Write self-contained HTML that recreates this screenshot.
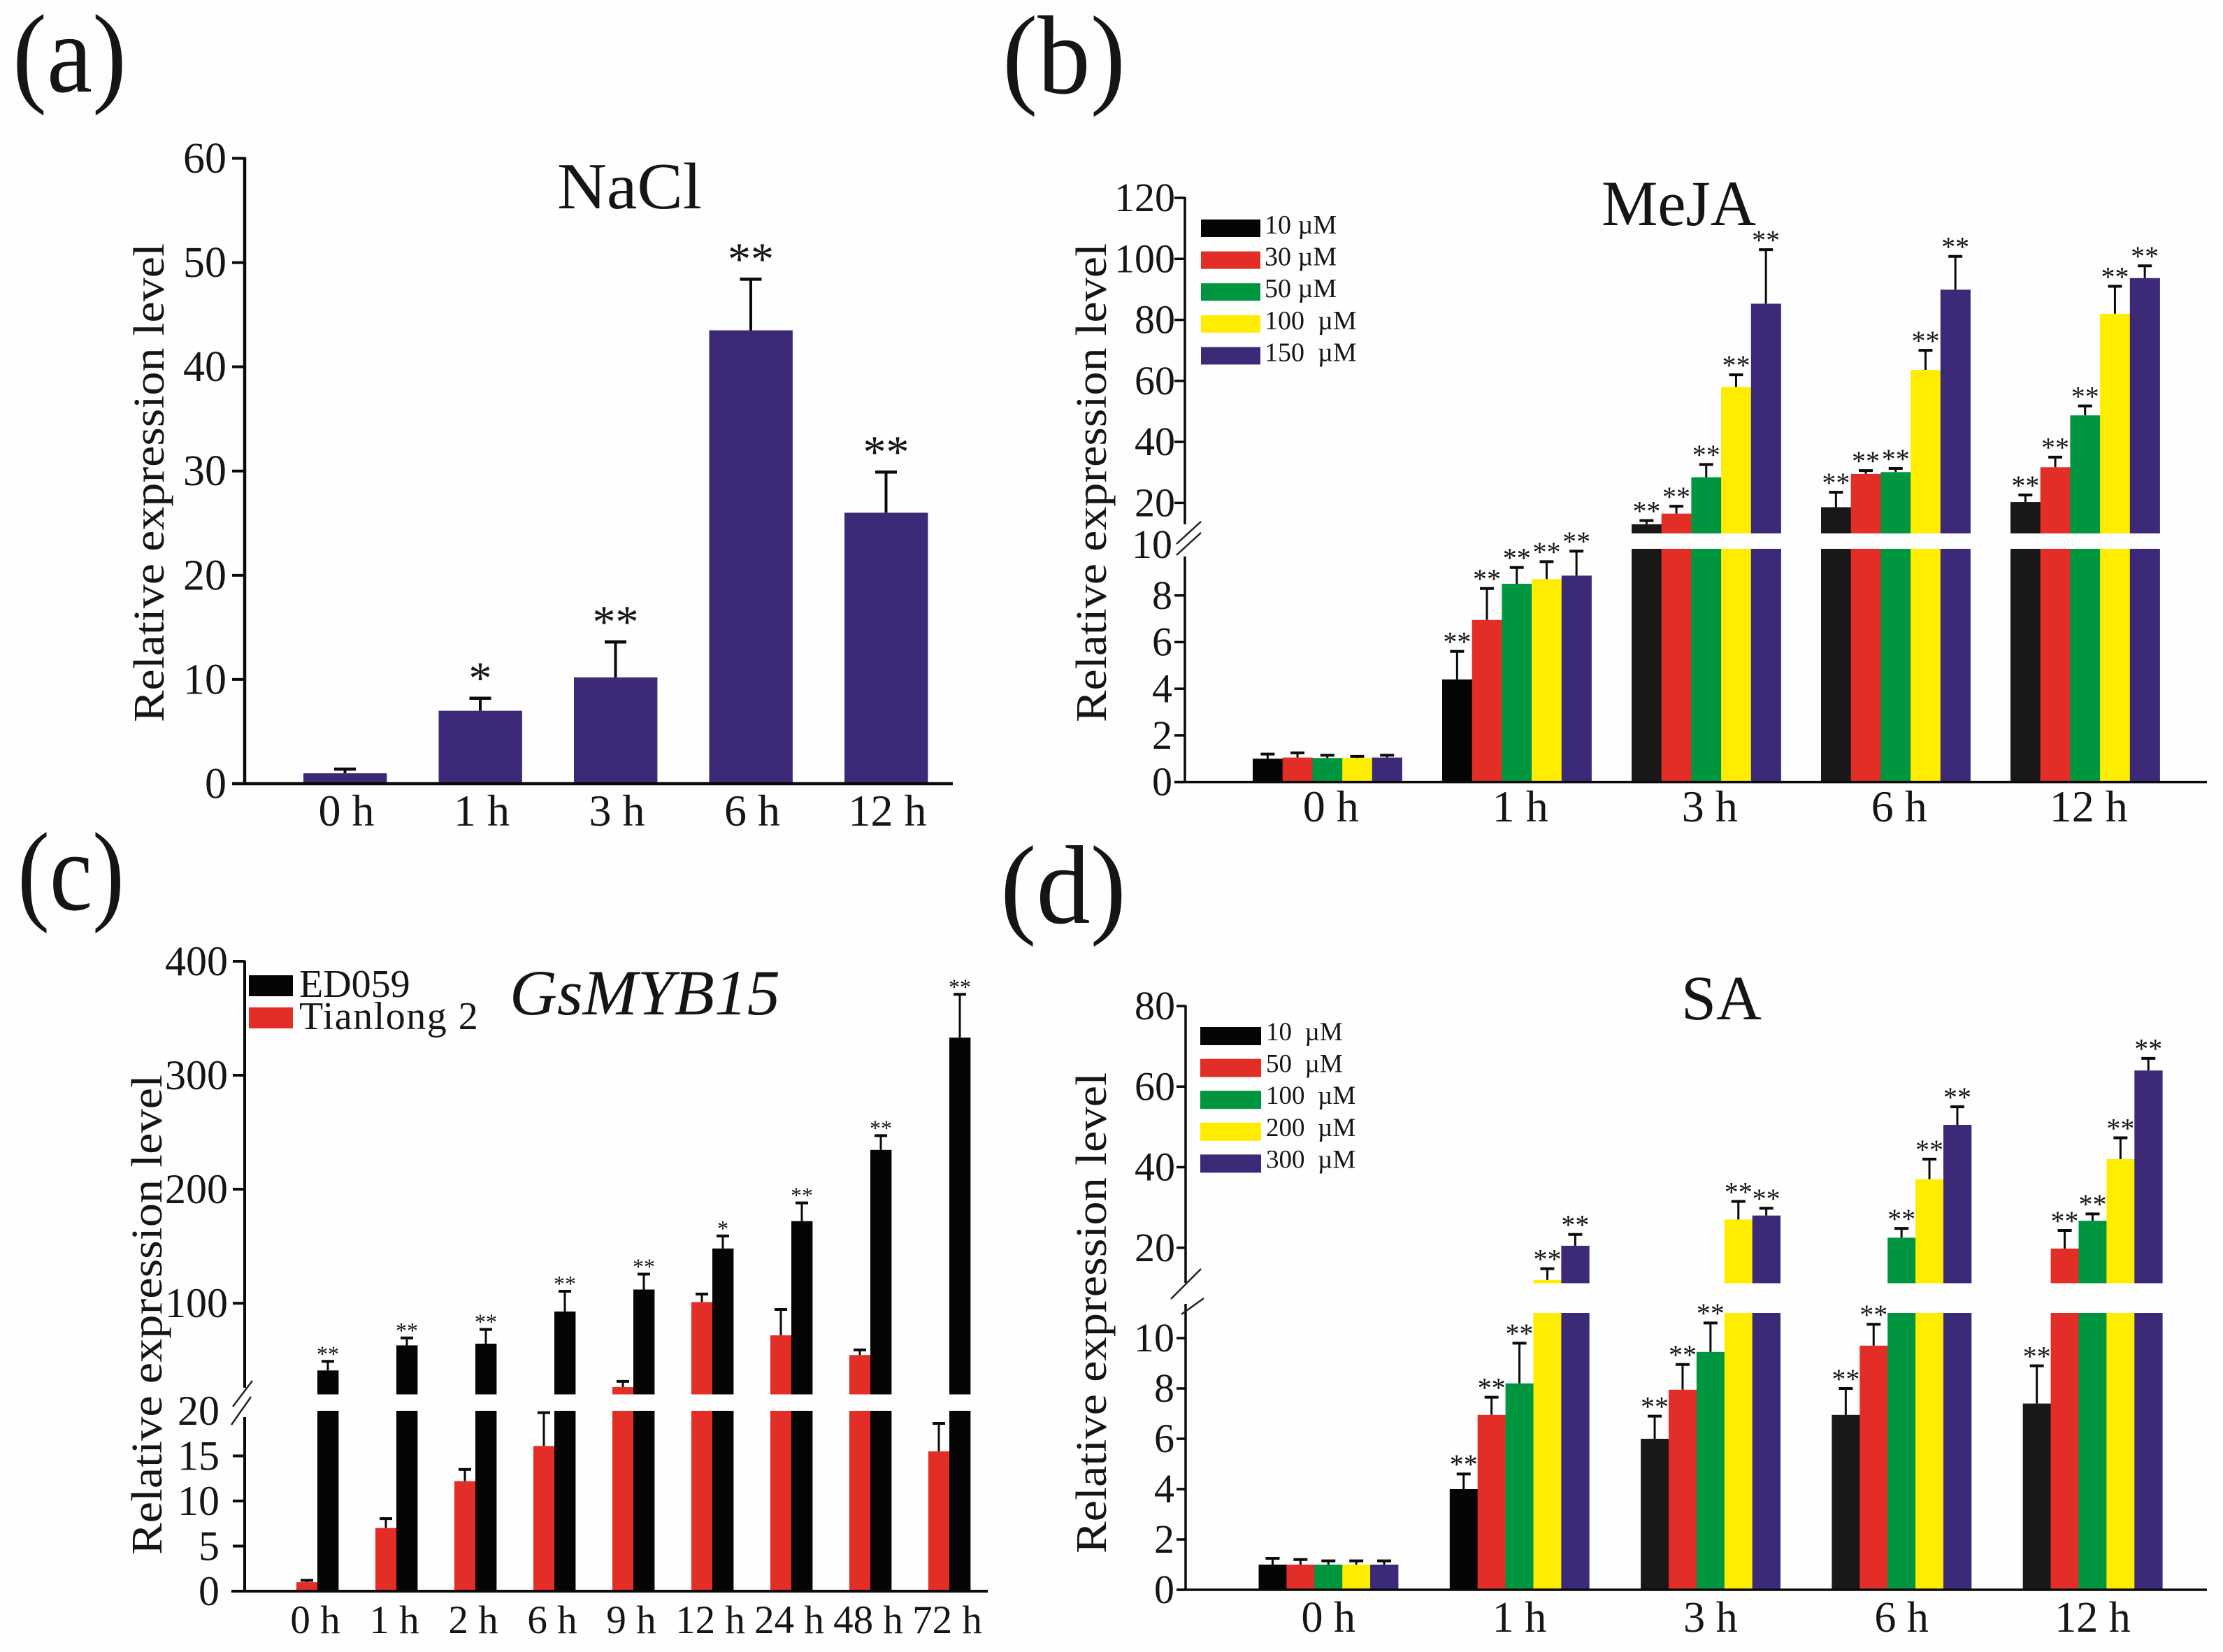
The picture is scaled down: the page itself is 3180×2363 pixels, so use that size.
<!DOCTYPE html>
<html lang="en">
<head>
<meta charset="utf-8">
<title>Relative expression level of GsMYB15 under stress treatments</title>
<style>
html,body{margin:0;padding:0;background:#fff;}
svg{display:block;}
text{font-family:"Liberation Serif","DejaVu Serif",serif;fill:#151515;}
</style>
</head>
<body>
<svg id="figure" xmlns="http://www.w3.org/2000/svg" width="3180" height="2363" viewBox="0 0 3180 2363">
  <rect x="0" y="0" width="3180" height="2363" fill="#fefefe"/>

  <text x="18" y="131" font-size="160" textLength="163" lengthAdjust="spacingAndGlyphs">(a)</text>
  <text x="1434" y="133" font-size="160" textLength="176" lengthAdjust="spacingAndGlyphs">(b)</text>
  <text x="25" y="1301" font-size="160" textLength="153" lengthAdjust="spacingAndGlyphs">(c)</text>
  <text x="1431" y="1320" font-size="160" textLength="180" lengthAdjust="spacingAndGlyphs">(d)</text>

  <text x="797" y="298" font-size="94" textLength="207" lengthAdjust="spacingAndGlyphs">NaCl</text>
  <text x="2291" y="322" font-size="92" textLength="221" lengthAdjust="spacingAndGlyphs">MeJA</text>
  <text x="729" y="1451" font-size="92" font-style="italic" textLength="387" lengthAdjust="spacingAndGlyphs">GsMYB15</text>
  <text x="2405" y="1458" font-size="90" textLength="115" lengthAdjust="spacingAndGlyphs">SA</text>

  <text transform="translate(234,1033) rotate(-90)" font-size="62" textLength="685" lengthAdjust="spacingAndGlyphs">Relative expression level</text>
  <text transform="translate(1582,1033) rotate(-90)" font-size="62" textLength="685" lengthAdjust="spacingAndGlyphs">Relative expression level</text>
  <text transform="translate(231,2224) rotate(-90)" font-size="62" textLength="687" lengthAdjust="spacingAndGlyphs">Relative expression level</text>
  <text transform="translate(1582,2222) rotate(-90)" font-size="62" textLength="688" lengthAdjust="spacingAndGlyphs">Relative expression level</text>

  <g id="panel-a"></g>
  <g id="panel-b"></g>
  <g id="panel-c"></g>
  <g id="panel-d"></g>
</svg>

<script>
// ---------- Panel (a) NaCl ----------
const naclCategories = ["0 h", "1 h", "3 h", "6 h", "12 h"];
const naclValues = [1, 7, 10.2, 43.5, 26];
const naclErrorTops = [1.4, 8.2, 13.6, 48.4, 29.9];
const naclStars = ["", "*", "**", "**", "**"];
const naclTicks = [0, 10, 20, 30, 40, 50, 60];

// ---------- Panel (b) MeJA ----------
const mejaCategories = ["0 h", "1 h", "3 h", "6 h", "12 h"];
const mejaLegend = ["10 \u00B5M", "30 \u00B5M", "50 \u00B5M", "100 \u00A0\u00B5M", "150 \u00A0\u00B5M"];
const meja10Values = [1.0, 4.4, 13, 18.6, 20.3];
const meja30Values = [1.05, 6.95, 16.5, 29.5, 31.7];
const meja50Values = [1.03, 8.5, 28.4, 30.1, 48.7];
const meja100Values = [1.03, 8.7, 58, 63.6, 82];
const meja150Values = [1.05, 8.85, 85.3, 89.9, 93.7];
const meja10Errors = [1.2, 5.6, 14.2, 23.5, 22.6];
const meja30Errors = [1.25, 8.3, 18.9, 30.6, 35];
const meja50Errors = [1.15, 9.2, 32.6, 31.3, 51.8];
const meja100Errors = [1.1, 9.45, 62, 70, 91];
const meja150Errors = [1.15, 9.9, 103, 100.8, 97.7];
const mejaStars = ["", "**", "**", "**", "**"];
const mejaTicks = [0, 2, 4, 6, 8, 10, 20, 40, 60, 80, 100, 120];

// ---------- Panel (c) GsMYB15 ----------
const gsCategories = ["0 h", "1 h", "2 h", "6 h", "9 h", "12 h", "24 h", "48 h", "72 h"];
const gsLegend = ["ED059", "Tianlong 2"];
const gsRedValues = [1, 7, 12.2, 16.1, 26.4, 101, 71.8, 54.5, 15.5];
const gsRedErrors = [1.2, 8.05, 13.5, 19.8, 31.4, 108, 94.5, 59, 18.6];
const gsBlackValues = [41, 63, 64.5, 92.7, 112, 148, 172, 234.5, 333];
const gsBlackErrors = [49, 69.5, 77, 110.5, 125.5, 159, 188, 247, 371];
const gsBlackStars = ["**", "**", "**", "**", "**", "*", "**", "**", "**"];
const gsTicks = [0, 5, 10, 15, 20, 100, 200, 300, 400];

// ---------- Panel (d) SA ----------
const saCategories = ["0 h", "1 h", "3 h", "6 h", "12 h"];
const saLegend = ["10 \u00A0\u00B5M", "50 \u00A0\u00B5M", "100 \u00A0\u00B5M", "200 \u00A0\u00B5M", "300 \u00A0\u00B5M"];
const sa10Values = [1.0, 4.0, 6.0, 6.95, 7.4];
const sa50Values = [1.0, 6.95, 7.95, 9.7, 19.8];
const sa100Values = [1.0, 8.2, 9.45, 22.5, 26.7];
const sa200Values = [1.0, 12, 27, 37, 42];
const sa300Values = [1.0, 20.5, 28, 50.5, 64];
const sa10Errors = [1.25, 4.6, 6.9, 8.0, 8.9];
const sa50Errors = [1.2, 7.65, 8.95, 10.55, 24.3];
const sa100Errors = [1.15, 9.8, 10.6, 24.8, 28.4];
const sa200Errors = [1.15, 14.8, 31.5, 42, 47.3];
const sa300Errors = [1.15, 23.3, 29.8, 55, 67];
const saStars = ["", "**", "**", "**", "**"];
const saTicks = [0, 2, 4, 6, 8, 10, 20, 40, 60, 80];

// ---------- Palette ----------
const BLACK = "#050505", SOFTBLACK = "#1a1718", RED = "#e32d27", GREEN = "#009640", YELLOW = "#ffed00", PURPLE = "#3c2a78";
const SVGNS = "http://www.w3.org/2000/svg";

function mk(tag, attrs, parent) {
  const el = document.createElementNS(SVGNS, tag);
  for (const k in attrs) el.setAttribute(k, attrs[k]);
  parent.appendChild(el);
  return el;
}
function linear(d0, d1, p0, p1) {
  return v => p0 + (v - d0) * (p1 - p0) / (d1 - d0);
}
// Scale with optional axis break: values <= loTop use the lower segment.
function brokenScale(loTop, loY0, loYTop, upBase, upTop, upYBase, upYTop) {
  const lo = linear(0, loTop, loY0, loYTop);
  const up = linear(upBase, upTop, upYBase, upYTop);
  const f = v => v <= loTop ? lo(v) : up(v);
  f.loTop = loTop; f.upBase = upBase; f.loPx = lo; f.upPx = up;
  return f;
}
function plainScale(top, y0, yTop) {
  const f = linear(0, top, y0, yTop);
  f.loTop = Infinity;
  f.loPx = f;
  return f;
}

function drawPanel(cfg) {
  const root = document.getElementById(cfg.id);
  const y = cfg.y;
  const xBand = (g, s) => cfg.start + g * cfg.step + s * cfg.barW;
  const n = cfg.categories.length;

  cfg.series.forEach((ser, s) => {
    for (let g = 0; g < n; g++) {
      const v = ser.values[g], err = ser.errors[g];
      const x = xBand(g, s);
      const cx = x + cfg.barW / 2;
      if (v == null) continue;
      const fill = (ser.softFrom !== undefined && g >= ser.softFrom) ? SOFTBLACK : ser.color;
      // error bar
      const el = mk("line", {x1: cx, x2: cx, y1: y(v), y2: y(err), stroke: "#0a0a0a", "stroke-width": cfg.errW}, root);
      
      
      const cap = mk("line", {x1: cx - cfg.capW / 2, x2: cx + cfg.capW / 2, y1: y(err), y2: y(err), stroke: "#0a0a0a", "stroke-width": cfg.capH}, root);
      
      
      // bar (lower and upper segment around the axis break)
      const topLow = Math.min(v, y.loTop);
      const low = mk("rect", {x: x, y: y.loPx(topLow), width: cfg.barW + 0.4, height: y.loPx(0) - y.loPx(topLow), fill: fill}, root);
      
      
      if (v > y.loTop) {
        const up = mk("rect", {x: x, y: y.upPx(v), width: cfg.barW + 0.4, height: y.upPx(y.upBase) - y.upPx(v), fill: fill}, root);
        
        
      }
    }
  });

  // significance stars
  cfg.series.forEach((ser, s) => {
    if (!ser.stars) return;
    for (let g = 0; g < n; g++) {
      if (!ser.stars[g]) continue;
      const t = mk("text", {x: xBand(g, s) + cfg.barW / 2, y: y(ser.errors[g]) - cfg.starGap + 0.47 * cfg.starSize, "font-size": cfg.starSize, "text-anchor": "middle"}, root);
      t.textContent = ser.stars[g];
      
      
    }
  });

  // axes
  cfg.axisSegments.forEach(seg => {
    const a = mk("line", {x1: cfg.axisX, x2: cfg.axisX, y1: seg[0], y2: seg[1], stroke: "#0a0a0a", "stroke-width": cfg.axisW}, root);
    
    
  });
  const xa = mk("line", {x1: cfg.axisLeft, x2: cfg.axisRight, y1: y(0), y2: y(0), stroke: "#0a0a0a", "stroke-width": cfg.axisW}, root);
  
  

  (cfg.slashes || []).forEach(sl => {
    const b = mk("line", {x1: sl[0], y1: sl[1], x2: sl[2], y2: sl[3], stroke: "#222", "stroke-width": 2.5}, root);
    
    
  });

  // y ticks + labels
  cfg.ticks.forEach(v => {
    const isUpper = v > y.loTop;
    const py = y(v);
    if (v !== cfg.noTick) {
      const t = mk("line", {x1: cfg.axisX - cfg.tickLen, x2: cfg.axisX, y1: py, y2: py, stroke: "#0a0a0a", "stroke-width": cfg.tickW}, root);
      
      
    }
    const right = isUpper ? cfg.labelRightUp : cfg.labelRightLo;
    const shift = v === cfg.noTick ? cfg.noTickShift : 0;
    const lab = mk("text", {x: right, y: py + shift + 0.33 * cfg.tickFont, "font-size": cfg.tickFont, "text-anchor": "end"}, root);
    lab.textContent = String(v);
    
    
  });

  // x labels
  const groupW = cfg.series.length * cfg.barW;
  cfg.categories.forEach((c, g) => {
    const lab = mk("text", {x: cfg.start + g * cfg.step + groupW / 2 + cfg.xLabelNudge, y: cfg.xLabelY, "font-size": cfg.xFont, "text-anchor": "middle", "xml:space": "preserve"}, root);
    lab.textContent = c;
    
    
  });

  // legend
  if (cfg.legend) {
    cfg.legend.labels.forEach((txt, i) => {
      const ly = cfg.legend.y + i * cfg.legend.dy;
      const sw = mk("rect", {x: cfg.legend.x, y: ly, width: cfg.legend.w, height: cfg.legend.h, fill: cfg.legend.colors[i]}, root);
      
      
      const attrs = {x: cfg.legend.x + cfg.legend.w + cfg.legend.gap, y: ly + cfg.legend.h + cfg.legend.baseShift, "font-size": cfg.legend.font};
      if (cfg.legend.stretch) {
        attrs["letter-spacing"] = (i === cfg.legend.stretchIndex) ? cfg.legend.stretch : 0;
      }
      const t = mk("text", attrs, root);
      t.textContent = txt;
      
      
    });
  }
}

drawPanel({
  id: "panel-a", categories: naclCategories,
  series: [{color: PURPLE, values: naclValues, errors: naclErrorTops, stars: naclStars}],
  y: plainScale(60, 1121, 226.5),
  start: 434, step: 193.5, barW: 119,
  capW: 31, capH: 4.5, errW: 4, starSize: 66, starGap: 38,
  axisX: 350, axisLeft: 332, axisRight: 1363, axisW: 4.5,
  axisSegments: [[225, 1123]],
  ticks: naclTicks, tickLen: 18, tickW: 4, tickFont: 62, labelRightLo: 324, labelRightUp: 324,
  xLabelY: 1181, xFont: 64, xLabelNudge: 2
});

drawPanel({
  id: "panel-b", categories: mejaCategories,
  series: [
    {color: BLACK, softFrom: 2, values: meja10Values, errors: meja10Errors, stars: mejaStars},
    {color: RED, values: meja30Values, errors: meja30Errors, stars: mejaStars},
    {color: GREEN, values: meja50Values, errors: meja50Errors, stars: mejaStars},
    {color: YELLOW, values: meja100Values, errors: meja100Errors, stars: mejaStars},
    {color: PURPLE, values: meja150Values, errors: meja150Errors, stars: mejaStars}
  ],
  y: brokenScale(10, 1118.6, 785, 10, 120, 763, 283),
  start: 1792, step: 271, barW: 42.7,
  capW: 20, capH: 4, errW: 3, starSize: 40, starGap: 19,
  axisX: 1695, axisLeft: 1680, axisRight: 3157, axisW: 3.5,
  axisSegments: [[282, 750], [796, 1120]],
  slashes: [[1683, 778, 1718, 746], [1683, 794, 1718, 762]],
  ticks: mejaTicks, noTick: 10, noTickShift: -6,
  tickLen: 15, tickW: 3.5, tickFont: 58, labelRightLo: 1677, labelRightUp: 1681,
  xLabelY: 1175, xFont: 64, xLabelNudge: 5,
  legend: {labels: mejaLegend, colors: [BLACK, RED, GREEN, YELLOW, PURPLE], x: 1718, y: 314, dy: 45.6, w: 85, h: 25, gap: 6, baseShift: -5, font: 38}
});

drawPanel({
  id: "panel-c", categories: gsCategories,
  series: [
    {color: RED, values: gsRedValues, errors: gsRedErrors},
    {color: BLACK, values: gsBlackValues, errors: gsBlackErrors, stars: gsBlackStars}
  ],
  y: brokenScale(20, 2276, 2018, 20, 400, 1994.5, 1375),
  start: 424, step: 113, barW: 30,
  capW: 18, capH: 4, errW: 3, starSize: 32, starGap: 15,
  axisX: 350, axisLeft: 331, axisRight: 1413, axisW: 4,
  axisSegments: [[1374, 1985], [2027, 2278]],
  slashes: [[333, 2012, 361, 1975], [331, 2038, 359, 1998]],
  ticks: gsTicks, noTick: 20, noTickShift: 0,
  tickLen: 17, tickW: 4, tickFont: 60, labelRightLo: 314, labelRightUp: 326,
  xLabelY: 2336, xFont: 57, xLabelNudge: -3,
  legend: {labels: gsLegend, colors: [BLACK, RED], x: 356, y: 1395, dy: 46, w: 63, h: 30, gap: 9, baseShift: 1, font: 56, stretch: 1.5, stretchIndex: 1}
});

drawPanel({
  id: "panel-d", categories: saCategories,
  series: [
    {color: BLACK, softFrom: 2, values: sa10Values, errors: sa10Errors, stars: saStars},
    {color: RED, values: sa50Values, errors: sa50Errors, stars: saStars},
    {color: GREEN, values: sa100Values, errors: sa100Errors, stars: saStars},
    {color: YELLOW, values: sa200Values, errors: sa200Errors, stars: saStars},
    {color: PURPLE, values: sa300Values, errors: sa300Errors, stars: saStars}
  ],
  y: brokenScale(11, 2274, 1878, 11.2, 80, 1835.5, 1439),
  start: 1800.5, step: 273.3, barW: 39.9,
  capW: 20, capH: 4, errW: 3, starSize: 40, starGap: 19,
  axisX: 1696, axisLeft: 1684, axisRight: 3157, axisW: 3.5,
  axisSegments: [[1438, 1835], [1865, 2275]],
  slashes: [[1675, 1858, 1718, 1815], [1690, 1880, 1722, 1857]],
  ticks: saTicks, tickLen: 13, tickW: 3.5, tickFont: 58, labelRightLo: 1680, labelRightUp: 1681,
  xLabelY: 2334, xFont: 62, xLabelNudge: 0,
  legend: {labels: saLegend, colors: [BLACK, RED, GREEN, YELLOW, PURPLE], x: 1717, y: 1469, dy: 45.6, w: 87, h: 26, gap: 7, baseShift: -7, font: 37}
});
</script>
</body>
</html>
